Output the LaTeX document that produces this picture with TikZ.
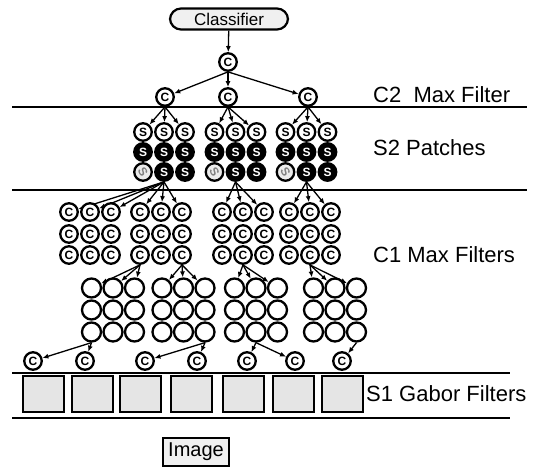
\documentclass[tikz,border=0pt]{standalone}
\usepackage{fontspec}
\setmainfont{Liberation Sans}
\usetikzlibrary{arrows.meta, positioning, backgrounds}

\begin{document}
\begin{tikzpicture}[
  x=1pt, y=-1pt,
  font=\normalsize,
  nodoC/.style={circle, draw=black, line width=2.3pt, fill=white, inner sep=0pt,
                minimum size=17.5pt, font=\bfseries\fontsize{12}{12}\selectfont},
  nodoSnero/.style={nodoC, fill=black, text=white},
  nodoSchiaro/.style={nodoC, fill=black!8, text=black!50},
  cerchio/.style={circle, draw=black, line width=2.3pt, fill=white,
                  inner sep=0pt, minimum size=19pt},
  filtro/.style={draw=black, line width=2.2pt, fill=black!10, inner sep=0pt,
                 minimum width=41pt, minimum height=36pt},
  riquadro/.style={draw=black, line width=2.2pt, fill=black!6, inner sep=2pt},
  etichetta/.style={anchor=west, inner sep=0pt, font=\fontsize{22}{26}\selectfont},
  separatore/.style={draw=black, line width=2.2pt},
  freccia/.style={draw=black, line width=1.3pt, -{Latex[length=6pt, width=5pt]}}
]
\useasboundingbox (0,0) rectangle (535,470);

% ---- classificatore e livello C2 ---------------------------------------
\node[riquadro, rounded corners=11pt, minimum width=118pt, minimum height=21pt,
      font=\fontsize{17}{20}\selectfont] (cls) at (229,19) {Classifier};
\node[nodoC] (cTop) at (228,62) {C};
\foreach \n/\x in {1/165, 2/228, 3/308} {
  \node[nodoC] (cc\n) at (\x,97) {C};
}

% ---- separatori dei livelli ---------------------------------------------
\draw[separatore] (12,107) -- (527,107);
\draw[separatore] (12,190) -- (527,190);
\draw[separatore] (12,373) -- (510,373);
\draw[separatore] (12,418) -- (510,418);

\node[etichetta] (lblC2) at (373,95) {C2~~Max Filter};
\node[etichetta] (lblS2) at (373,148) {S2 Patches};
\node[etichetta] (lblC1) at (373,255) {C1 Max Filters};
\node[etichetta] (lblS1) at (366,394) {S1 Gabor Filters};

% ---- S2: patch ----------------------------------------------------------
\foreach \g/\x in {1/164, 2/235.5, 3/306.5} {
  \foreach \c in {1,2,3} {
    \node[nodoC] (s\g1\c) at ({\x+21*(\c-2)},132) {S};
    \node[nodoSnero] (s\g2\c) at ({\x+21*(\c-2)},152) {S};
  }
  \node[nodoSchiaro] (s\g31) at ({\x-21},172) {\rotatebox{-60}{S}};
  \foreach \c in {2,3} {
    \node[nodoSnero] (s\g3\c) at ({\x+21*(\c-2)},172) {S};
  }
}

% ---- C1: filtri max -----------------------------------------------------
\foreach \g/\x in {1/90, 2/161, 3/243, 4/310} {
  \foreach \r/\y in {1/212, 2/234, 3/255} {
    \foreach \c in {1,2,3} {
      \node[nodoC] (m\g\r\c) at ({\x+21*(\c-2)},\y) {C};
    }
  }
}

% ---- unita' semplici ----------------------------------------------------
\foreach \g/\x in {1/113, 2/183.5, 3/256, 4/335} {
  \foreach \r/\y in {1/288, 2/310, 3/332} {
    \foreach \c in {1,2,3} {
      \node[cerchio] (u\g\r\c) at ({\x+21.5*(\c-2)},\y) {};
    }
  }
}

% ---- S1: filtri di Gabor -------------------------------------------------
\foreach \n/\x in {1/33, 2/85, 3/145, 4/197, 5/247, 6/295, 7/342} {
  \node[nodoC] (b\n) at (\x,361) {C};
}
\foreach \n/\x in {1/43.5, 2/92.5, 3/140.5, 4/191.5, 5/243.5, 6/293.5, 7/342.5} {
  \node[filtro] (f\n) at (\x,394) {};
}

\node[riquadro, minimum width=66pt, minimum height=28pt,
      font=\fontsize{20}{24}\selectfont] (img) at (196,452) {Image};

% ---- collegamenti (dietro ai cerchi) ------------------------------------
\begin{scope}[on background layer]
  \draw[freccia] (cls) -- (cTop);
  \foreach \n in {1,2,3} {
    \draw[freccia] (cTop.south) -- (cc\n);
    \foreach \c in {1,2,3} \draw[freccia] (cc\n.south) -- (s\n1\c);
  }
  \foreach \c in {1,2,3} {
    \draw[freccia] (s132.south) -- (m11\c);
    \draw[freccia] (s132.south) -- (m21\c);
    \draw[freccia] (s232.south) -- (m31\c);
    \draw[freccia] (s332.south) -- (m41\c);
    \draw[freccia] (m231.south) -- (u11\c);
    \draw[freccia] (m233.south) -- (u21\c);
    \draw[freccia] (m332.south) -- (u31\c);
    \draw[freccia] (m432.south) -- (u41\c);
  }
  \foreach \a/\b in {131/1, 131/2, 233/3, 233/4, 332/5, 332/6, 433/7} {
    \draw[freccia] (u\a.south) -- (b\b);
  }
\end{scope}

\end{tikzpicture}
\end{document}
